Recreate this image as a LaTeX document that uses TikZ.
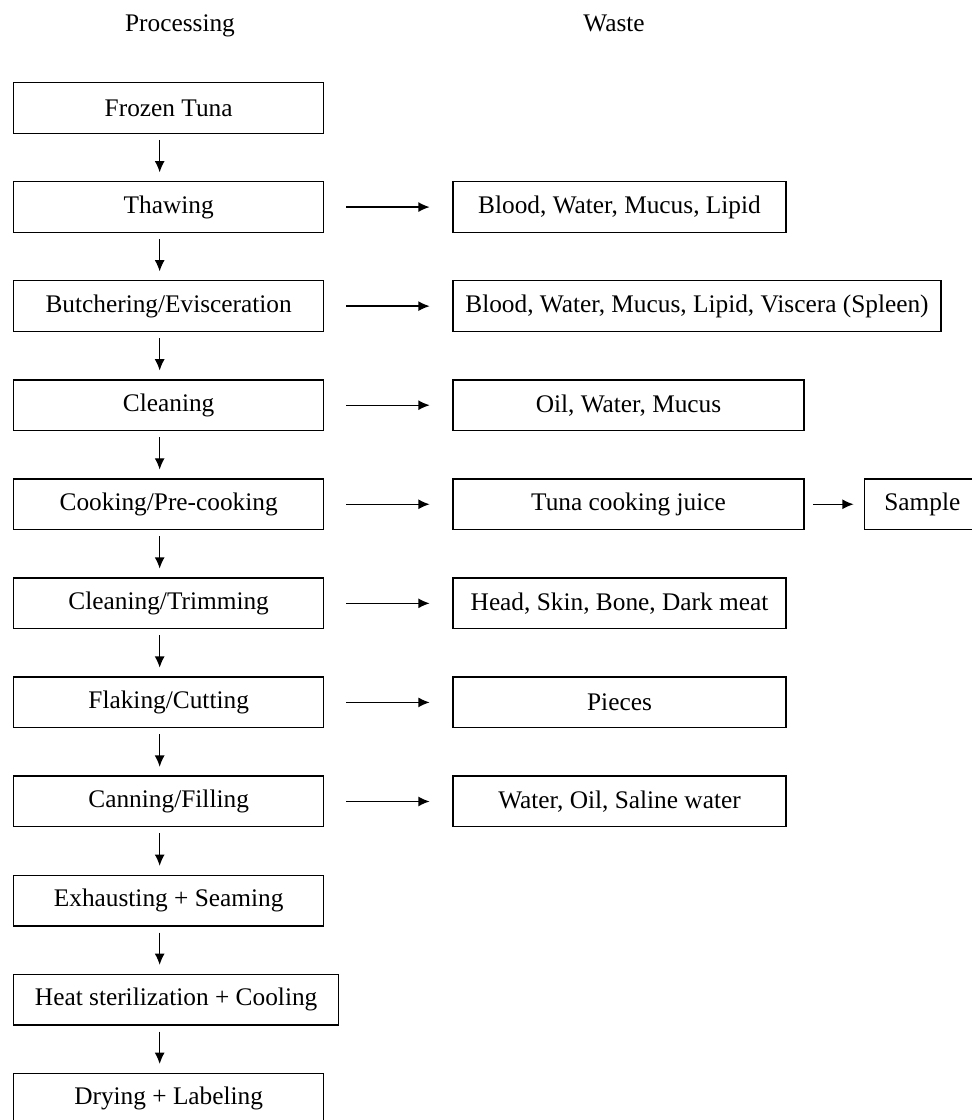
\documentclass[tikz,border=0pt]{standalone}
\usepackage{fontspec}
\setmainfont{Liberation Serif}
\usepackage{tikz}
\usetikzlibrary{positioning,arrows.meta}
\tikzstyle{textonly} = [draw=none, fill=none, text centered, font=\fontsize{19}{22}\selectfont]
\tikzstyle{procbox} = [draw, line width=1pt, text centered, font=\fontsize{19}{22}\selectfont,
inner sep=0pt, minimum width=232.5pt, minimum height=38pt]
\tikzstyle{wastebox} = [procbox, minimum width=249.75pt]
\tikzstyle{tedge}  = [draw, line width=1pt, >={Latex[length=8.5pt,width=7.5pt]}, ->]

\begin{document}
\begin{tikzpicture}[x=0.75pt, y=-0.75pt]

\useasboundingbox (0,0) rectangle (971,1120);

\node[textonly, anchor=base] (processing) at (180,32) {Processing};
\node[textonly, anchor=base] (waste) at (614,32) {Waste};

\node[procbox, anchor=north west] (frozen) at (13,82) {Frozen Tuna};
\node[procbox, below=35.3pt of frozen] (thawing) {Thawing};
\node[procbox, below=35.3pt of thawing] (butchering) {Butchering/Evisceration};
\node[procbox, below=35.3pt of butchering] (cleaning) {Cleaning};
\node[procbox, below=35.3pt of cleaning] (cooking) {Cooking/Pre-cooking};
\node[procbox, below=35.3pt of cooking] (trimming) {Cleaning/Trimming};
\node[procbox, below=35.3pt of trimming] (flaking) {Flaking/Cutting};
\node[procbox, below=35.3pt of flaking] (canning) {Canning/Filling};
\node[procbox, below=35.3pt of canning] (exhausting) {Exhausting + Seaming};
\node[procbox, minimum width=243.75pt, below=35.3pt of exhausting.south west, anchor=north west] (sterilization) {Heat sterilization + Cooling};
\node[procbox, below=35.3pt of sterilization.south west, anchor=north west] (drying) {Drying + Labeling};

\node[wastebox, right=96pt of thawing] (bloodwater) {Blood, Water, Mucus, Lipid};
\node[wastebox, minimum width=366pt, right=96pt of butchering] (viscera) {Blood, Water, Mucus, Lipid, Viscera (Spleen)};
\node[wastebox, minimum width=263.25pt, right=96pt of cleaning] (oilwater) {Oil, Water, Mucus};
\node[wastebox, minimum width=263.25pt, right=96pt of cooking] (juice) {Tuna cooking juice};
\node[wastebox, right=96pt of trimming] (headskin) {Head, Skin, Bone, Dark meat};
\node[wastebox, right=96pt of flaking] (pieces) {Pieces};
\node[wastebox, right=96pt of canning] (saline) {Water, Oil, Saline water};
\node[procbox, minimum width=87pt, right=44.25pt of juice] (sample) {Sample};

\coordinate (axis) at ([xshift=-6.75pt]frozen.south);

\path[tedge, shorten <=4.5pt, shorten >=6.5pt] (axis |- frozen.south) -- (axis |- thawing.north);
\path[tedge, shorten <=4.5pt, shorten >=6.5pt] (axis |- thawing.south) -- (axis |- butchering.north);
\path[tedge, shorten <=4.5pt, shorten >=6.5pt] (axis |- butchering.south) -- (axis |- cleaning.north);
\path[tedge, shorten <=4.5pt, shorten >=6.5pt] (axis |- cleaning.south) -- (axis |- cooking.north);
\path[tedge, shorten <=4.5pt, shorten >=6.5pt] (axis |- cooking.south) -- (axis |- trimming.north);
\path[tedge, shorten <=4.5pt, shorten >=6.5pt] (axis |- trimming.south) -- (axis |- flaking.north);
\path[tedge, shorten <=4.5pt, shorten >=6.5pt] (axis |- flaking.south) -- (axis |- canning.north);
\path[tedge, shorten <=4.5pt, shorten >=6.5pt] (axis |- canning.south) -- (axis |- exhausting.north);
\path[tedge, shorten <=4.5pt, shorten >=6.5pt] (axis |- exhausting.south) -- (axis |- sterilization.north);
\path[tedge, shorten <=4.5pt, shorten >=6.5pt] (axis |- sterilization.south) -- (axis |- drying.north);

\path[tedge, shorten <=16.5pt, shorten >=17pt] (thawing) edge (bloodwater);
\path[tedge, shorten <=16.5pt, shorten >=17pt] (butchering) edge (viscera);
\path[tedge, shorten <=16.5pt, shorten >=17pt] (cleaning) edge (oilwater);
\path[tedge, shorten <=16.5pt, shorten >=17pt] (cooking) edge (juice);
\path[tedge, shorten <=16.5pt, shorten >=17pt] (trimming) edge (headskin);
\path[tedge, shorten <=16.5pt, shorten >=17pt] (flaking) edge (pieces);
\path[tedge, shorten <=16.5pt, shorten >=17pt] (canning) edge (saline);
\path[tedge, shorten <=6.5pt, shorten >=7.5pt] (juice) edge (sample);

\end{tikzpicture}
\end{document}
